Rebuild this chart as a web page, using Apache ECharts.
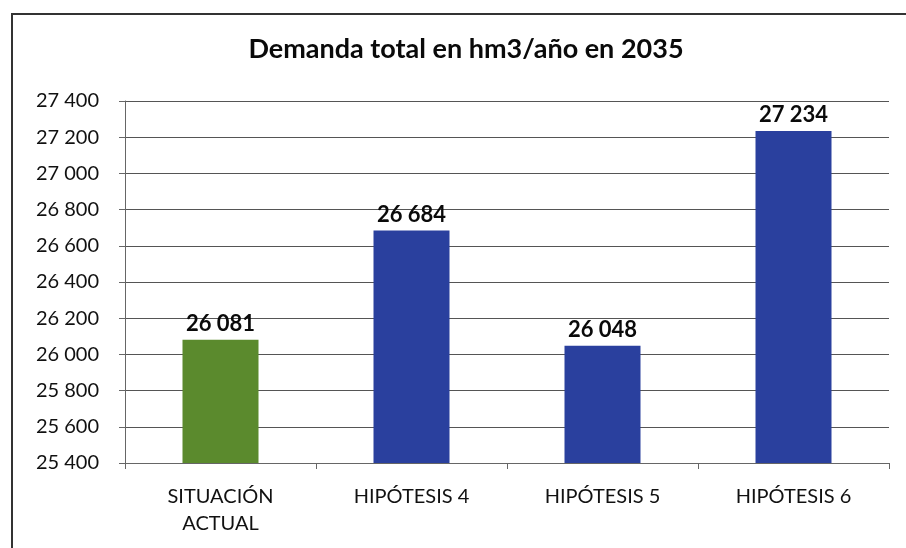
<!DOCTYPE html>
<html><head><meta charset="utf-8">
<script src="https://cdn.jsdelivr.net/npm/echarts@6/dist/echarts.min.js"></script>
<style>html,body{margin:0;padding:0;background:#fff}#c{width:906px;height:548px}</style>
</head><body><div id="c"></div>
<script>
const titleText = 'Demanda total en hm3/año en 2035';
const categories = ['SITUACIÓN\nACTUAL', 'HIPÓTESIS 4', 'HIPÓTESIS 5', 'HIPÓTESIS 6'];
const values = [26081, 26684, 26048, 27234];
const barColors = ['#5b8a2d', '#2a409e', '#2a409e', '#2a409e'];
const yMin = 25400, yMax = 27400, yStep = 200;

const fmt = v => { const s = String(v); return s.slice(0, s.length - 3) + ' ' + s.slice(-3); };
const FONT = 'Lato, "Open Sans", sans-serif';

const chart = echarts.init(document.getElementById('c'));
chart.setOption({
  animation: false,
  title: { text: titleText, left: 461, textAlign: 'center', top: 31,
    textStyle: { fontFamily: FONT, fontSize: 27, fontWeight: 'bold', color: '#0a0a0a' } },
  grid: { left: 125, right: 17, top: 101, bottom: 85 },
  graphic: [{ type: 'rect', shape: { x: 12, y: 14, width: 910, height: 560 },
    style: { fill: 'none', stroke: '#333', lineWidth: 2 }, silent: true, z: -1 }],
  xAxis: { type: 'category', data: categories,
    axisLine: { lineStyle: { color: '#666' } },
    axisTick: { show: true, length: 6, lineStyle: { color: '#666' } },
    axisLabel: { fontFamily: FONT, fontSize: 20, color: '#111', margin: 20, lineHeight: 27 } },
  yAxis: { type: 'value', min: yMin, max: yMax, interval: yStep,
    axisLine: { show: true, lineStyle: { color: '#666' } },
    axisTick: { show: true, length: 6, lineStyle: { color: '#666' } },
    splitLine: { lineStyle: { color: '#555', width: 1.2 } },
    axisLabel: { fontFamily: FONT, fontSize: 20, color: '#111', margin: 26, formatter: v => fmt(v) } },
  series: [{ type: 'bar', barWidth: 76,
    data: values.map((v, i) => ({ value: v, itemStyle: { color: barColors[i] } })),
    label: { show: true, position: 'top', distance: 5, fontFamily: FONT, fontSize: 22,
      fontWeight: 'bold', color: '#0a0a0a', formatter: p => fmt(p.value) } }]
});
</script></body></html>
